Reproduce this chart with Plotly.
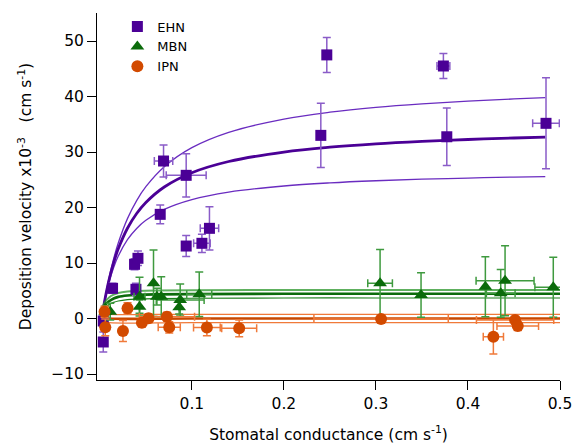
import plotly.graph_objects as go

# ---------------- data ----------------
ehn_x = [0.0037, 0.0037, 0.0138, 0.0377, 0.0414, 0.0392, 0.0656, 0.0692, 0.0938, 0.0938,
         0.1109, 0.1191, 0.2401, 0.2466, 0.3733, 0.3770, 0.4848]
ehn_y = [-4.23, -0.45, 5.44, 9.77, 10.85, 5.26, 18.77, 28.38, 25.8, 13.06,
         13.55, 16.25, 33.0, 47.5, 45.5, 32.75, 35.17]
ehn_ey = [1.8, 1.0, 0.9, 1.0, 1.3, 1.1, 1.7, 2.9, 3.9, 1.9,
          1.65, 3.9, 5.8, 3.15, 2.25, 5.2, 8.2]
ehn_ex = [0.0, 0.0, 0.0, 0.0, 0.0, 0.0, 0.0, 0.010, 0.0217, 0.003,
          0.009, 0.010, 0.0, 0.0, 0.007, 0.004, 0.0145]

mbn_x = [0.0059, 0.0113, 0.0431, 0.0431, 0.0583, 0.0620, 0.0667, 0.0873, 0.0862, 0.1080,
         0.3045, 0.3490, 0.4189, 0.4356, 0.4403, 0.4927]
mbn_y = [1.23, 1.23, 3.93, 2.13, 6.34, 3.93, 3.93, 3.33, 2.02, 4.36,
         6.34, 4.23, 5.73, 4.54, 6.81, 5.62]
mbn_ey = [1.0, 1.5, 3.5, 1.2, 6.0, 1.5, 3.6, 2.9, 1.2, 4.0,
          6.1, 4.0, 5.4, 4.3, 6.3, 5.4]
mbn_ex = [0.0, 0.0, 0.006, 0.0, 0.0, 0.0, 0.0, 0.026, 0.0, 0.0136,
          0.0134, 0.0, 0.0, 0.0156, 0.0315, 0.02]

ipn_x = [0.0051, 0.0059, 0.0301, 0.0251, 0.0457, 0.0529, 0.0729, 0.0754, 0.1163, 0.1514,
         0.3056, 0.4512, 0.4541, 0.4276]
ipn_y = [1.23, -1.59, 1.84, -2.25, -0.76, 0.04, 0.32, -1.59, -1.62, -1.77,
         -0.09, -0.27, -1.35, -3.28]
ipn_ey = [1.0, 1.5, 1.0, 1.9, 0.8, 0.8, 0.8, 1.0, 1.5, 1.5,
          0.5, 0.6, 0.8, 3.1]
ipn_ex = [0.0, 0.0, 0.0, 0.0, 0.0, 0.0, 0.03, 0.012, 0.0145, 0.019,
          0.073, 0.042, 0.0226, 0.011]

# fitted curves
ehn_fit_x = [0.0025, 0.005, 0.01, 0.015, 0.02, 0.03, 0.04, 0.05, 0.07, 0.1,
             0.14, 0.2, 0.25, 0.3, 0.35, 0.4, 0.45, 0.484]
ehn_fit_y = [0.54, 2.99, 6.97, 10.07, 12.55, 16.26, 18.92, 20.91, 23.70, 26.27,
             28.29, 30.00, 30.87, 31.47, 31.91, 32.26, 32.53, 32.68]
ehn_hi_y = [0.55, 3.08, 7.33, 10.77, 13.60, 18.00, 21.25, 23.75, 27.35, 30.78,
            33.54, 35.94, 37.17, 38.04, 38.68, 39.17, 39.56, 39.79]
ehn_lo_y = [0.53, 2.88, 6.52, 9.20, 11.26, 14.21, 16.23, 17.69, 19.67, 21.43,
            22.77, 23.88, 24.44, 24.82, 25.10, 25.31, 25.48, 25.57]

mbn_fit_x = [0.0015, 0.005, 0.01, 0.015, 0.02, 0.03, 0.04, 0.06, 0.1, 0.2, 0.3, 0.4, 0.5]
mbn_fit_y = [1.2, 2.3, 3.1, 3.6, 3.9, 4.15, 4.25, 4.35, 4.4, 4.45, 4.45, 4.45, 4.45]
mbn_hi_y = [1.3, 2.8, 3.8, 4.3, 4.6, 4.85, 4.95, 5.05, 5.1, 5.15, 5.15, 5.15, 5.15]
mbn_lo_y = [1.1, 1.9, 2.5, 2.9, 3.15, 3.4, 3.5, 3.6, 3.65, 3.7, 3.7, 3.7, 3.7]

ipn_fit_x = [0.0015, 0.01, 0.1, 0.3, 0.5]
ipn_fit_y = [0.2, 0.0, 0.0, 0.0, 0.0]
ipn_hi_y = [0.9, 0.75, 0.75, 0.75, 0.75]
ipn_lo_y = [-0.5, -0.75, -0.75, -0.75, -0.75]

x_ticks = [0.1, 0.2, 0.3, 0.4, 0.5]
y_ticks = [-10, 0, 10, 20, 30, 40, 50]

# ---------------- styles ----------------
PURPLE = "#4b0096"
PURPLE_L = "#8a5cc8"
GREEN = "#0b6b0b"
GREEN_L = "#3f9a3f"
ORANGE = "#d24a00"
ORANGE_L = "#f07a3a"
FONT = "DejaVu Sans"

fig = go.Figure()

def line(x, y, color, width):
    fig.add_trace(go.Scatter(x=x, y=y, mode="lines", line=dict(color=color, width=width, shape="spline"),
                             showlegend=False, hoverinfo="skip"))

line(ehn_fit_x, ehn_hi_y, "#6a2cc0", 1.3)
line(ehn_fit_x, ehn_lo_y, "#6a2cc0", 1.3)
line(ehn_fit_x, ehn_fit_y, PURPLE, 2.8)
line(mbn_fit_x, mbn_hi_y, "rgba(40,150,40,0.75)", 2)
line(mbn_fit_x, mbn_lo_y, "#1a801a", 1.2)
line(mbn_fit_x, mbn_fit_y, GREEN, 2.6)
line(ipn_fit_x, ipn_hi_y, ORANGE_L, 1.3)
line(ipn_fit_x, ipn_lo_y, ORANGE_L, 1.3)
line(ipn_fit_x, ipn_fit_y, "#c84800", 2.6)

def pts(name, x, y, ex, ey, color, ecolor, symbol, size):
    fig.add_trace(go.Scatter(
        x=x, y=y, mode="markers", name=name,
        marker=dict(color=color, symbol=symbol, size=size, line=dict(width=0)),
        error_y=dict(type="data", array=ey, visible=True, color=ecolor, thickness=1.5, width=4),
        error_x=dict(type="data", array=ex, visible=True, color=ecolor, thickness=1.5, width=4),
    ))

pts("EHN", ehn_x, ehn_y, ehn_ex, ehn_ey, PURPLE, PURPLE_L, "square", 11)
pts("MBN", mbn_x, mbn_y, mbn_ex, mbn_ey, GREEN, GREEN_L, "triangle-up", 12)
pts("IPN", ipn_x, ipn_y, ipn_ex, ipn_ey, ORANGE, ORANGE_L, "circle", 12)

fig.update_layout(
    width=574, height=445,
    margin=dict(l=97, r=14, t=13, b=65, autoexpand=False),
    paper_bgcolor="white", plot_bgcolor="white",
    font=dict(family=FONT, size=15.5, color="black"),
    showlegend=True,
    legend=dict(x=0.044, y=1.004, xanchor="left", yanchor="top", bgcolor="rgba(0,0,0,0)",
                font=dict(family=FONT, size=13, color="black"), tracegroupgap=0),
    xaxis=dict(range=[-0.0031, 0.5], tickvals=x_ticks, ticktext=[str(v) for v in x_ticks],
               automargin=False,
               showline=True, linecolor="black", linewidth=1, ticks="outside", ticklen=9,
               tickcolor="black", showgrid=False, zeroline=False,
               title=dict(text="Stomatal conductance (cm s<sup>-1</sup>)", standoff=17,
                          font=dict(family=FONT, size=15.5))),
    yaxis=dict(range=[-11.08, 55.05], tickvals=y_ticks, automargin=False,
               showline=True, linecolor="black", linewidth=1, ticks="outside", ticklen=9,
               tickcolor="black", showgrid=False, zeroline=False,
               title=dict(text="Deposition velocity x10<sup>-3</sup>\u00a0\u00a0\u00a0(cm s<sup>-1</sup>)",
                          standoff=15, font=dict(family=FONT, size=15.5))),
)

fig.write_html("out.html")
